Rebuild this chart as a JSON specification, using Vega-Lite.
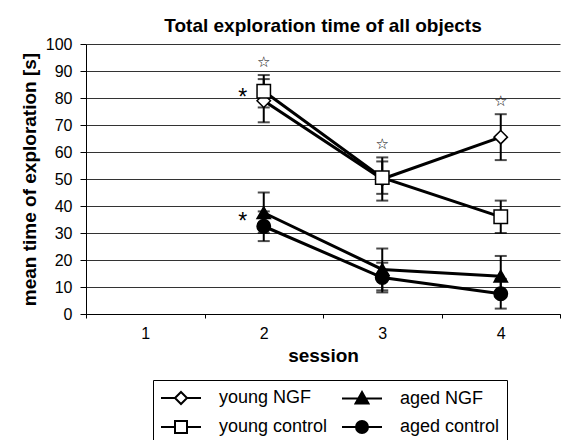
{
  "$schema": "https://vega.github.io/schema/vega-lite/v6.json",
  "width": 474,
  "height": 270,
  "autosize": {"type": "none"},
  "padding": {"left": 86, "top": 44, "right": 5, "bottom": 126},
  "background": "white",
  "config": {
    "font": "Liberation Sans",
    "view": {"stroke": null},
    "axis": {
      "labelFont": "Liberation Sans",
      "titleFont": "Liberation Sans",
      "labelColor": "black",
      "titleColor": "black",
      "domainColor": "black",
      "tickColor": "black",
      "labelFontSize": 16,
      "titleFontSize": 19,
      "titleFontWeight": "bold"
    },
    "axisY": {"grid": true, "gridColor": "#333", "tickCount": 10, "tickSize": 6, "labelPadding": 8, "titlePadding": 6},
    "axisX": {"grid": false, "tickSize": 4, "labelPadding": 7, "titlePadding": 5, "labelAngle": 0, "tickBand": "extent"},
    "legend": {
      "orient": "none",
      "legendX": 67,
      "legendY": 336,
      "columns": 2,
      "strokeColor": "black",
      "fillColor": "white",
      "padding": 7,
      "labelFont": "Liberation Sans",
      "labelFontSize": 18,
      "labelColor": "black",
      "labelOffset": 37,
      "columnPadding": 10,
      "rowPadding": 8,
      "symbolSize": 400,
      "symbolStrokeColor": "black",
      "symbolStrokeWidth": 2,
      "symbolOpacity": 1
    }
  },
  "title": {
    "text": "Total exploration time of all objects",
    "fontSize": 19,
    "fontWeight": "bold",
    "font": "Liberation Sans",
    "color": "black",
    "anchor": "middle",
    "offset": -15,
    "baseline": "alphabetic"
  },
  "datasets": {
    "main": [
      {"series": "young NGF", "session": 2, "mean": 79, "lo": 71, "hi": 87},
      {"series": "young NGF", "session": 3, "mean": 50, "lo": 42, "hi": 58},
      {"series": "young NGF", "session": 4, "mean": 65.5, "lo": 57, "hi": 74},
      {"series": "young control", "session": 2, "mean": 82.5, "lo": 76.5, "hi": 88.5},
      {"series": "young control", "session": 3, "mean": 50.5, "lo": 44.5, "hi": 56.5},
      {"series": "young control", "session": 4, "mean": 36, "lo": 30, "hi": 42},
      {"series": "aged NGF", "session": 2, "mean": 37.5, "lo": 30, "hi": 45},
      {"series": "aged NGF", "session": 3, "mean": 16.5, "lo": 8.75, "hi": 24.25},
      {"series": "aged NGF", "session": 4, "mean": 14, "lo": 6.5, "hi": 21.5},
      {"series": "aged control", "session": 2, "mean": 32.5, "lo": 27, "hi": 38},
      {"series": "aged control", "session": 3, "mean": 13.5, "lo": 8, "hi": 19},
      {"series": "aged control", "session": 4, "mean": 7.5, "lo": 2, "hi": 13}
    ],
    "stars": [
      {"session": 2, "y": 93.5, "t": "☆"},
      {"session": 3, "y": 63, "t": "☆"},
      {"session": 4, "y": 79, "t": "☆"}
    ],
    "asterisks": [
      {"session": 2, "y": 82, "t": "*"},
      {"session": 2, "y": 36, "t": "*"}
    ]
  },
  "data": {"name": "main"},
  "encoding": {
    "x": {
      "field": "session",
      "type": "ordinal",
      "title": "session",
      "scale": {"type": "band", "domain": [1, 2, 3, 4], "paddingInner": 0, "paddingOuter": 0}
    }
  },
  "layer": [
    {
      "mark": {"type": "rule", "color": "black", "strokeWidth": 2},
      "encoding": {
        "y": {"field": "lo", "type": "quantitative", "title": "mean time of exploration [s]", "scale": {"domain": [0, 100]}},
        "y2": {"field": "hi"}
      }
    },
    {
      "mark": {"type": "tick", "orient": "horizontal", "size": 12, "thickness": 2, "color": "black"},
      "encoding": {
        "y": {"field": "lo", "type": "quantitative", "title": "mean time of exploration [s]", "scale": {"domain": [0, 100]}}
      }
    },
    {
      "mark": {"type": "tick", "orient": "horizontal", "size": 12, "thickness": 2, "color": "black"},
      "encoding": {
        "y": {"field": "hi", "type": "quantitative", "title": "mean time of exploration [s]", "scale": {"domain": [0, 100]}}
      }
    },
    {
      "mark": {"type": "line", "color": "black", "strokeWidth": 3},
      "encoding": {
        "y": {"field": "mean", "type": "quantitative", "title": "mean time of exploration [s]", "scale": {"domain": [0, 100]}},
        "detail": {"field": "series"}
      }
    },
    {
      "mark": {"type": "point", "stroke": "black", "strokeWidth": 1.5, "size": 180, "opacity": 1},
      "encoding": {
        "y": {"field": "mean", "type": "quantitative", "title": "mean time of exploration [s]", "scale": {"domain": [0, 100]}},
        "shape": {
          "field": "series",
          "type": "nominal",
          "scale": {"domain": ["young NGF", "young control", "aged NGF", "aged control"], "range": ["diamond", "square", "triangle-up", "circle"]},
          "legend": null
        },
        "fill": {
          "field": "series",
          "type": "nominal",
          "scale": {"domain": ["young NGF", "young control", "aged NGF", "aged control"], "range": ["white", "white", "black", "black"]},
          "legend": null
        }
      }
    },
    {
      "data": {"name": "stars"},
      "mark": {"type": "text", "font": "DejaVu Sans", "fontSize": 15, "fontWeight": "bold", "color": "black", "baseline": "middle"},
      "encoding": {
        "y": {"field": "y", "type": "quantitative", "title": "mean time of exploration [s]", "scale": {"domain": [0, 100]}},
        "text": {"field": "t"}
      }
    },
    {
      "data": {"name": "asterisks"},
      "mark": {"type": "text", "font": "Liberation Sans", "fontSize": 23, "color": "black", "baseline": "middle", "dx": -21, "dy": 5},
      "encoding": {
        "y": {"field": "y", "type": "quantitative", "title": "mean time of exploration [s]", "scale": {"domain": [0, 100]}},
        "text": {"field": "t"}
      }
    },
    {
      "transform": [{"filter": "datum.session > 9"}],
      "mark": {"type": "point", "stroke": "black", "strokeWidth": 2, "size": 400, "opacity": 1},
      "encoding": {
        "y": {"field": "mean", "type": "quantitative", "title": "mean time of exploration [s]", "scale": {"domain": [0, 100]}},
        "shape": {
          "field": "series",
          "type": "nominal",
          "title": null,
          "scale": {
            "domain": ["young NGF", "young control", "aged NGF", "aged control"],
            "range": [
              "M-1,0H0.4M1.6,0H3M1,-0.6L1.6,0L1,0.6L0.4,0Z",
              "M-1,0H0.4M1.6,0H3M0.4,-0.6H1.6V0.6H0.4Z",
              "M-1,0H3M1,-0.65L1.65,0.5H0.35Z",
              "M-1,0H3M1.6,0A0.6,0.6,0,1,1,0.4,0A0.6,0.6,0,1,1,1.6,0Z"
            ]
          },
          "legend": {
            "symbolStrokeColor": "black",
            "symbolStrokeWidth": 2,
            "encode": {
              "symbols": {
                "update": {
                  "stroke": {"value": "black"},
                  "strokeWidth": {"value": 2},
                  "opacity": {"value": 1}
                }
              }
            }
          }
        },
        "fill": {
          "field": "series",
          "type": "nominal",
          "title": null,
          "scale": {"domain": ["young NGF", "young control", "aged NGF", "aged control"], "range": ["white", "white", "black", "black"]},
          "legend": {
            "symbolStrokeColor": "black",
            "symbolStrokeWidth": 2,
            "encode": {
              "symbols": {
                "update": {
                  "stroke": {"value": "black"},
                  "strokeWidth": {"value": 2},
                  "opacity": {"value": 1}
                }
              }
            }
          }
        }
      }
    }
  ],
  "resolve": {"scale": {"shape": "independent", "fill": "independent"}}
}
